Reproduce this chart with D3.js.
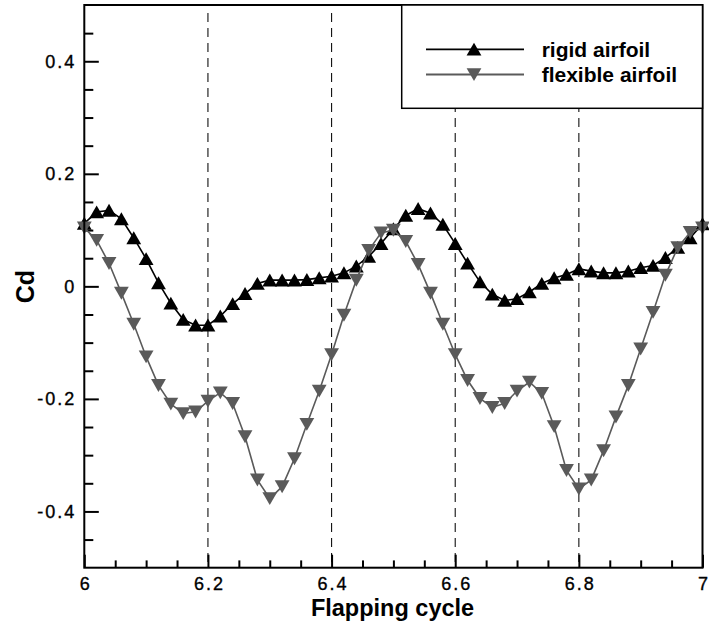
<!DOCTYPE html>
<html>
<head>
<meta charset="utf-8">
<script src="https://cdn.jsdelivr.net/npm/d3@7"></script>
<style>
  html, body { margin: 0; padding: 0; background: #fff; }
  svg { display: block; font-family: "Liberation Sans", Arial, Helvetica, sans-serif; }
</style>
</head>
<body>
<svg id="chart" width="709" height="630"></svg>
<script>
// ---- data ----
const cycleX = [6.00,6.02,6.04,6.06,6.08,6.10,6.12,6.14,6.16,6.18,
                6.20,6.22,6.24,6.26,6.28,6.30,6.32,6.34,6.36,6.38,
                6.40,6.42,6.44,6.46,6.48,6.50,6.52,6.54,6.56,6.58,
                6.60,6.62,6.64,6.66,6.68,6.70,6.72,6.74,6.76,6.78,
                6.80,6.82,6.84,6.86,6.88,6.90,6.92,6.94,6.96,6.98,7.00];
const rigidCd = [0.112,0.132,0.135,0.120,0.086,0.049,0.006,-0.030,-0.059,-0.069,
                 -0.069,-0.053,-0.031,-0.013,0.005,0.011,0.011,0.011,0.012,0.015,
                 0.018,0.024,0.036,0.053,0.076,0.102,0.126,0.138,0.130,0.110,
                 0.076,0.041,0.008,-0.014,-0.025,-0.022,-0.010,0.005,0.015,0.021,
                 0.031,0.027,0.024,0.024,0.027,0.033,0.037,0.051,0.069,0.086,0.111];
const flexibleCd = [0.104,0.082,0.041,-0.012,-0.067,-0.125,-0.176,-0.209,-0.226,-0.223,
                    -0.204,-0.189,-0.208,-0.267,-0.344,-0.377,-0.356,-0.306,-0.245,-0.186,
                    -0.121,-0.051,0.011,0.064,0.095,0.100,0.080,0.039,-0.012,-0.067,
                    -0.121,-0.167,-0.199,-0.215,-0.208,-0.186,-0.170,-0.190,-0.249,-0.327,
                    -0.360,-0.344,-0.292,-0.232,-0.176,-0.111,-0.046,0.020,0.069,0.096,0.104];
const seriesNames = ["rigid airfoil", "flexible airfoil"];
const xMajorTicks = [6, 6.2, 6.4, 6.6, 6.8, 7];
const xTickLabels = ["6", "6.2", "6.4", "6.6", "6.8", "7"];
const yMajorTicks = [-0.4, -0.2, 0, 0.2, 0.4];
const yTickLabels = ["-0.4", "-0.2", "0", "0.2", "0.4"];
const dashedAt = [6.2, 6.4, 6.6, 6.8];
const xTitle = "Flapping cycle";
const yTitle = "Cd";

// ---- layout ----
const svg = d3.select("#chart");
const L = 84.3, R = 702.5, T = 5, B = 567.7;
const x = d3.scaleLinear().domain([6, 7]).range([L, R]);
const y = d3.scaleLinear().domain([-0.5, 0.5]).range([B, T]);
const gray = "#5a5a5a";
const fontF = '"Liberation Sans", Arial, Helvetica, sans-serif';

const minorX = d3.range(6, 7.0001, 0.05).map(v => +v.toFixed(2)).filter(v => !xMajorTicks.some(m => Math.abs(m - v) < 1e-6));
const minorY = d3.range(-0.5, 0.5001, 0.05).map(v => +v.toFixed(2)).filter(v => !yMajorTicks.some(m => Math.abs(m - v) < 1e-6) && Math.abs(v) < 0.49);

// dashed vertical lines
svg.append("g").selectAll("line").data(dashedAt).join("line")
  .attr("x1", d => x(d)).attr("x2", d => x(d))
  .attr("y1", 13).attr("y2", B)
  .attr("stroke", "#111").attr("stroke-width", 1.1)
  .attr("stroke-dasharray", "9,6");

// axes: minor ticks
const gxMinor = svg.append("g").attr("transform", `translate(0,${B})`)
  .call(d3.axisBottom(x).tickValues(minorX).tickSize(-7.3).tickFormat(""));
const gyMinor = svg.append("g").attr("transform", `translate(${L},0)`)
  .call(d3.axisLeft(y).tickValues(minorY).tickSize(-9).tickFormat(""));
// major ticks with labels
const gx = svg.append("g").attr("transform", `translate(0,${B})`)
  .call(d3.axisBottom(x).tickValues(xMajorTicks).tickSize(-13).tickPadding(10)
    .tickFormat((d, i) => xTickLabels[i]));
const gy = svg.append("g").attr("transform", `translate(${L},0)`)
  .call(d3.axisLeft(y).tickValues(yMajorTicks).tickSize(-14.5).tickPadding(10)
    .tickFormat((d, i) => yTickLabels[i]));
[gxMinor, gyMinor, gx, gy].forEach(g => {
  g.select(".domain").remove();
  g.selectAll(".tick line").attr("stroke", "#000").attr("stroke-width", 2);
});
gx.selectAll(".tick text").attr("font-size", 18).attr("font-family", fontF)
  .attr("fill", "#000").attr("stroke", "#000").attr("stroke-width", 0.35)
  .attr("letter-spacing", "2px").attr("dy", "0.71em").attr("y", 10).attr("dx", 1);
gy.selectAll(".tick text").attr("font-size", 18).attr("font-family", fontF)
  .attr("fill", "#000").attr("stroke", "#000").attr("stroke-width", 0.35)
  .attr("letter-spacing", "2px").attr("x", -8);

// series lines + markers
const line = d3.line().x((d, i) => x(cycleX[i])).y(d => y(d));
const upTri = "M0,-6.6L7.4,6.3L-7.4,6.3Z";
const downTri = "M0,6.6L7.4,-6.3L-7.4,-6.3Z";

svg.append("path").datum(rigidCd).attr("d", line)
  .attr("fill", "none").attr("stroke", "#000").attr("stroke-width", 1.6);
svg.append("g").selectAll("path").data(rigidCd).join("path")
  .attr("d", upTri)
  .attr("transform", (d, i) => `translate(${x(cycleX[i])},${y(d)})`)
  .attr("fill", "#000");

svg.append("path").datum(flexibleCd).attr("d", line)
  .attr("fill", "none").attr("stroke", gray).attr("stroke-width", 1.6);
svg.append("g").selectAll("path").data(flexibleCd).join("path")
  .attr("d", downTri)
  .attr("transform", (d, i) => `translate(${x(cycleX[i])},${y(d)})`)
  .attr("fill", gray);

// frame
svg.append("rect").attr("x", L).attr("y", T).attr("width", R - L).attr("height", B - T)
  .attr("fill", "none").attr("stroke", "#000").attr("stroke-width", 2);

// legend
const lg = svg.append("g");
lg.append("rect").attr("x", 401.7).attr("y", T).attr("width", R - 401.7).attr("height", 108.3 - T)
  .attr("fill", "#fff").attr("stroke", "#000").attr("stroke-width", 1.5);
const legRows = [
  { name: seriesNames[0], color: "#000", sym: upTri, ly: 49.3, ty: 56.5 },
  { name: seriesNames[1], color: gray, sym: downTri, ly: 74.5, ty: 82 }
];
legRows.forEach(r => {
  lg.append("line").attr("x1", 426).attr("x2", 524).attr("y1", r.ly).attr("y2", r.ly)
    .attr("stroke", r.color).attr("stroke-width", 1.8);
  lg.append("path").attr("d", r.sym).attr("transform", `translate(474,${r.ly})`).attr("fill", r.color);
  lg.append("text").attr("x", 541.7).attr("y", r.ty).text(r.name)
    .attr("font-size", 21).attr("font-weight", "bold").attr("font-family", fontF).attr("fill", "#000");
});

// axis titles
svg.append("text").attr("x", 392.5).attr("y", 615.5).attr("text-anchor", "middle")
  .attr("font-size", 23.5).attr("font-weight", "bold").attr("font-family", fontF).text(xTitle);
svg.append("text").attr("transform", "translate(34,286.7) rotate(-90)").attr("text-anchor", "middle")
  .attr("font-size", 25).attr("font-weight", "bold").attr("font-family", fontF).text(yTitle);
</script>
</body>
</html>
